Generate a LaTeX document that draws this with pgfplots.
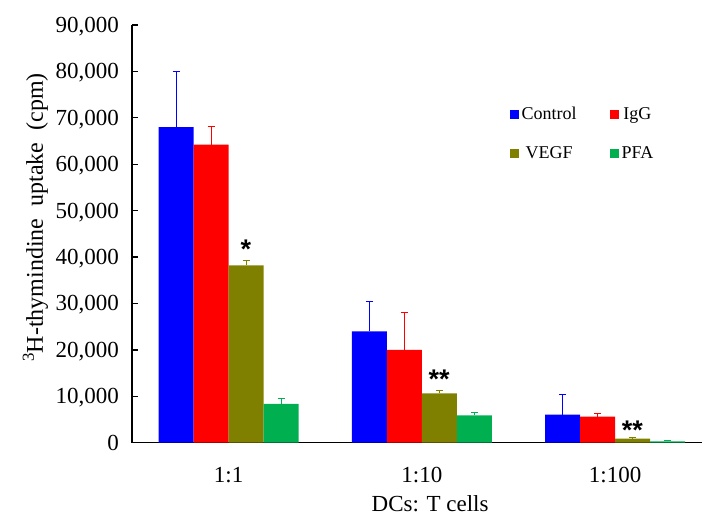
\documentclass[border=0pt]{standalone}
\usepackage{fontspec}
\setmainfont{Liberation Serif}
\setsansfont{Liberation Sans}
\usepackage{pgfplots}
\pgfplotsset{compat=1.18}
\definecolor{cctrl}{RGB}{0,0,255}
\definecolor{cigg}{RGB}{255,0,0}
\definecolor{cvegf}{RGB}{128,128,0}
\definecolor{cpfa}{RGB}{0,176,80}
\newcommand\tfont{\fontsize{23bp}{27bp}\selectfont}
\begin{document}
\begin{tikzpicture}
\useasboundingbox (0,0) rectangle (702bp,516bp);
\begin{axis}[
  at={(132bp,73.3bp)}, anchor=south west,
  scale only axis, width=570bp, height=417.7bp,
  xmin=-0.5, xmax=2.45, ymin=0, ymax=90000,
  axis lines*=left,
  axis line style={line width=1.5bp, black},
  every tick/.style={black, line width=1.3bp},
  tick align=inside,
  major tick length=6bp,
  ybar=0pt, bar width=35bp,
  xtick={0,1,2}, xticklabels={1:1,1:10,1:100},
  x tick style={draw=none},
  extra x ticks={0.5,1.5}, extra x tick labels={},
  extra x tick style={major tick length=7bp, x tick style={black, line width=1.3bp}},
  ytick={0,10000,...,90000},
  scaled y ticks=false,
  /pgf/number format/.cd, 1000 sep={,}, assume math mode=true, /pgfplots/.cd,
  tick label style={font=\tfont},
  yticklabel style={anchor=base east, inner sep=0pt, xshift=-13bp, yshift=-7.5bp},
  xticklabel style={anchor=base, inner sep=0pt, yshift=-34bp},
  xlabel={DCs: T cells},
  xlabel style={font=\tfont, at={(axis description cs:0.523,0)}, anchor=base, inner sep=0pt, yshift=-69bp},
  ylabel={\textsuperscript{3}H-thymindine\hspace{0.5em}uptake\hspace{0.5em}(cpm)},
  ylabel style={font=\fontsize{24bp}{28bp}\selectfont, at={(axis description cs:-0.1696,0.539)}, anchor=center, inner sep=0pt},
  legend columns=2,
  legend style={draw=none, fill=none, inner sep=0pt, font=\fontsize{18bp}{21bp}\selectfont,
    at={(axis description cs:0.663,0.81)}, anchor=north west,
    nodes={inner sep=2.5bp},
    row sep=21bp,
    /tikz/every even column/.append style={column sep=31bp}},
  legend image code/.code={\fill[#1] (0bp,-4.5bp) rectangle (9bp,4.5bp);},
  error bars/y dir=plus, error bars/y explicit,
]
\addplot[fill=cctrl, draw=none, error bars/.cd, error bar style={draw=cctrl, line width=1bp}, error mark options={rotate=90, mark size=3.5bp, draw=cctrl, line width=1bp}]
  coordinates {(0,68000) +- (0,12000) (1,24000) +- (0,6500) (2,6050) +- (0,4400)};
\addlegendentry{Control}
\addplot[fill=cigg, draw=none, error bars/.cd, error bar style={draw=cigg, line width=1bp}, error mark options={rotate=90, mark size=3.5bp, draw=cigg, line width=1bp}]
  coordinates {(0,64200) +- (0,3900) (1,20000) +- (0,8000) (2,5600) +- (0,750)};
\addlegendentry{IgG}
\addplot[fill=cvegf, draw=none, error bars/.cd, error bar style={draw=cvegf, line width=1bp}, error mark options={rotate=90, mark size=3.5bp, draw=cvegf, line width=1bp}]
  coordinates {(0,38200) +- (0,1100) (1,10650) +- (0,550) (2,870) +- (0,150)};
\addlegendentry{VEGF}
\addplot[fill=cpfa, draw=none, error bars/.cd, error bar style={draw=cpfa, line width=1bp}, error mark options={rotate=90, mark size=3.5bp, draw=cpfa, line width=1bp}]
  coordinates {(0,8350) +- (0,1250) (1,5900) +- (0,600) (2,300) +- (0,200)};
\addlegendentry{PFA}
\node[font=\fontsize{27bp}{30bp}\selectfont\sffamily\bfseries] at (axis cs:0.09,41600) {*};
\node[font=\fontsize{27bp}{30bp}\selectfont\sffamily\bfseries] at (axis cs:1.09,13600) {**};
\node[font=\fontsize{27bp}{30bp}\selectfont\sffamily\bfseries] at (axis cs:2.09,2600) {**};
\end{axis}
\end{tikzpicture}
\end{document}
